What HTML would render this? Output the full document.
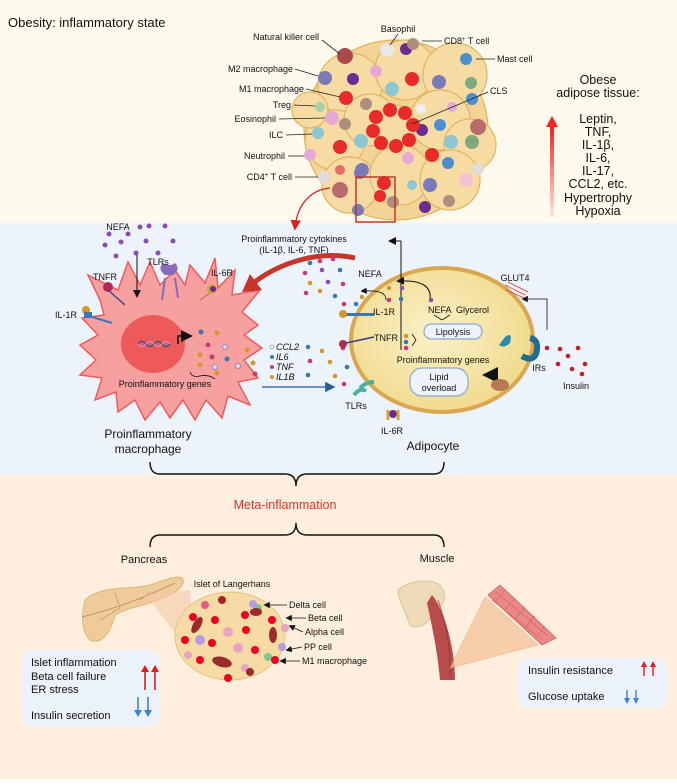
<!DOCTYPE html>
<html><head><meta charset="utf-8"><style>
html,body{margin:0;padding:0;}
body{width:677px;height:779px;overflow:hidden;font-family:"Liberation Sans",sans-serif;}
svg text{font-family:"Liberation Sans",sans-serif;}
</style></head><body>
<svg width="677" height="779" viewBox="0 0 677 779" xmlns="http://www.w3.org/2000/svg">
<defs>
<linearGradient id="rg" x1="0" y1="1" x2="0" y2="0"><stop offset="0" stop-color="#ff2a2a" stop-opacity="0.1"/><stop offset="1" stop-color="#ff1a1a"/></linearGradient>
<radialGradient id="ad" cx="0.45" cy="0.45" r="0.6"><stop offset="0" stop-color="#fbf1c8"/><stop offset="1" stop-color="#f0d98a"/></radialGradient>
<marker id="ah" markerWidth="8" markerHeight="8" refX="6" refY="4" orient="auto"><path d="M0,0 L8,4 L0,8 Z" fill="#111"/></marker>
<marker id="ahb" markerWidth="8" markerHeight="8" refX="6" refY="4" orient="auto"><path d="M0,0 L8,4 L0,8 Z" fill="#2a5f95"/></marker>
<marker id="ahr" markerWidth="8" markerHeight="8" refX="6" refY="4" orient="auto"><path d="M0,0 L8,4 L0,8 Z" fill="#e01b1b"/></marker>
</defs>
<rect x="0" y="0" width="677" height="223" fill="#fdf9ec"/>
<rect x="0" y="223" width="677" height="252" fill="#edf3fb"/>
<rect x="0" y="475" width="677" height="304" fill="#fdeedd"/>

<text x="8" y="27" font-size="13" fill="#111">Obesity: inflammatory state</text>

<!-- adipose cluster -->
<g stroke="#e0b45e" stroke-width="1.2" fill="#f6dca3">
<ellipse cx="396" cy="130" rx="92" ry="90" fill="#f3d496"/>
<circle cx="350" cy="85" r="32"/><circle cx="405" cy="70" r="30"/><circle cx="455" cy="75" r="32"/>
<circle cx="335" cy="140" r="30"/><circle cx="370" cy="120" r="26"/><circle cx="440" cy="120" r="30"/>
<circle cx="470" cy="145" r="26"/><circle cx="350" cy="185" r="28"/><circle cx="400" cy="175" r="30"/>
<circle cx="450" cy="180" r="30"/><circle cx="395" cy="125" r="20"/><circle cx="310" cy="110" r="18"/>
</g>
<g>
<circle cx="345" cy="56" r="8" fill="#a84a4a"/><circle cx="387" cy="50" r="6" fill="#777" stroke="#ddd" stroke-width="2"/>
<circle cx="388" cy="50" r="6" fill="#eee"/><circle cx="387" cy="50" r="6" fill="#e9e9e9"/>
<circle cx="387" cy="50" r="6" fill="#e8e8e8"/><circle cx="406" cy="49" r="6" fill="#6b2d90"/>
<circle cx="413" cy="44" r="6" fill="#ad8f7d"/><circle cx="466" cy="59" r="6" fill="#4b8fd0"/>
<circle cx="325" cy="78" r="7" fill="#7a7ab8"/><circle cx="353" cy="79" r="6" fill="#6b2d90"/>
<circle cx="376" cy="71" r="6" fill="#e6a9d4"/><circle cx="392" cy="89" r="7" fill="#8cc7d3"/>
<circle cx="412" cy="79" r="7" fill="#e82a2a"/><circle cx="439" cy="82" r="7" fill="#7a7ab8"/>
<circle cx="471" cy="83" r="6" fill="#7ea87d"/><circle cx="346" cy="98" r="7" fill="#e82a2a"/>
<circle cx="366" cy="104" r="6" fill="#ad8f7d"/><circle cx="421" cy="109" r="5" fill="#eee"/>
<circle cx="472" cy="99" r="6" fill="#4b8fd0"/><circle cx="452" cy="107" r="5" fill="#e6a9d4"/>
<circle cx="320" cy="107" r="5" fill="#a5cfa6"/><circle cx="332" cy="118" r="7" fill="#e6a9d4"/>
<circle cx="345" cy="124" r="6" fill="#ad8f7d"/><circle cx="318" cy="133" r="6" fill="#8cc7d3"/>
<circle cx="340" cy="147" r="7" fill="#e82a2a"/><circle cx="361" cy="141" r="7" fill="#8cc7d3"/>
<circle cx="310" cy="155" r="6" fill="#e6a9d4"/><circle cx="340" cy="170" r="5" fill="#e86a6a"/>
<circle cx="324" cy="177" r="6" fill="#ddd"/><circle cx="340" cy="190" r="8" fill="#b86b6b"/>
<circle cx="362" cy="170" r="7" fill="#7a7ab8"/><circle cx="384" cy="183" r="7" fill="#e82a2a"/>
<circle cx="412" cy="185" r="5" fill="#8cc7d3"/><circle cx="393" cy="202" r="6" fill="#ad8f7d"/>
<circle cx="430" cy="185" r="7" fill="#7a7ab8"/><circle cx="449" cy="201" r="6" fill="#ad8f7d"/>
<circle cx="425" cy="207" r="6" fill="#6b2d90"/><circle cx="478" cy="169" r="6" fill="#ddd"/>
<circle cx="466" cy="180" r="7" fill="#f3c3d4"/><circle cx="448" cy="163" r="6" fill="#4b8fd0"/>
<circle cx="432" cy="155" r="7" fill="#e82a2a"/><circle cx="408" cy="158" r="6" fill="#e6a9d4"/>
<circle cx="451" cy="142" r="7" fill="#8cc7d3"/><circle cx="472" cy="142" r="7" fill="#7ea87d"/>
<circle cx="478" cy="127" r="8" fill="#b86b6b"/><circle cx="440" cy="125" r="6" fill="#4b8fd0"/>
<circle cx="422" cy="130" r="6" fill="#6b2d90"/><circle cx="360" cy="173" r="6" fill="#7a7ab8"/>
<circle cx="358" cy="210" r="6" fill="#7a7ab8"/><circle cx="380" cy="196" r="6" fill="#e82a2a"/>
</g>
<g fill="#e82a2a">
<circle cx="390" cy="110" r="7"/><circle cx="405" cy="113" r="7"/><circle cx="413" cy="125" r="7"/>
<circle cx="409" cy="140" r="7"/><circle cx="396" cy="146" r="7"/><circle cx="381" cy="143" r="7"/>
<circle cx="373" cy="131" r="7"/><circle cx="376" cy="117" r="7"/>
</g>
<circle cx="393" cy="128" r="8" fill="#f6dca3"/>
<rect x="356" y="177" width="39" height="45" fill="none" stroke="#c0392b" stroke-width="1.5"/>
<path d="M330,188 C310,190 297,205 295,228" fill="none" stroke="#e01b1b" stroke-width="1.3" marker-end="url(#ahr)"/>
<g font-size="9" fill="#111">
<text x="319" y="40" text-anchor="end">Natural killer cell</text>
<text x="398" y="32" text-anchor="middle">Basophil</text>
<text x="444" y="44">CD8<tspan font-size="6" dy="-3">+</tspan><tspan dy="3"> T cell</tspan></text>
<text x="497" y="62">Mast cell</text>
<text x="293" y="72" text-anchor="end">M2 macrophage</text>
<text x="304" y="92" text-anchor="end">M1 macrophage</text>
<text x="291" y="108" text-anchor="end">Treg</text>
<text x="276" y="122" text-anchor="end">Eosinophil</text>
<text x="283" y="138" text-anchor="end">ILC</text>
<text x="285" y="159" text-anchor="end">Neutrophil</text>
<text x="292" y="180" text-anchor="end">CD4<tspan font-size="6" dy="-3">+</tspan><tspan dy="3"> T cell</tspan></text>
<text x="490" y="94">CLS</text>
</g>
<g stroke="#222" stroke-width="0.8">
<line x1="322" y1="40" x2="340" y2="54"/><line x1="398" y1="34" x2="390" y2="45"/><line x1="422" y1="41" x2="442" y2="41"/>
<line x1="476" y1="59" x2="495" y2="59"/><line x1="295" y1="69" x2="318" y2="76"/><line x1="306" y1="89" x2="340" y2="97"/>
<line x1="294" y1="105" x2="315" y2="106"/><line x1="279" y1="119" x2="325" y2="118"/><line x1="286" y1="135" x2="312" y2="134"/>
<line x1="288" y1="156" x2="304" y2="156"/><line x1="295" y1="177" x2="318" y2="177"/><line x1="488" y1="92" x2="412" y2="124"/>
</g>
<rect x="550" y="125" width="4" height="92" fill="url(#rg)"/>
<path d="M546,127 L552,116 L558,127 Z" fill="#ff2222"/>
<g font-size="12.5" fill="#111" text-anchor="middle">
<text x="598" y="84">Obese</text><text x="598" y="97">adipose tissue:</text>
<text x="598" y="123">Leptin,</text><text x="598" y="136">TNF,</text><text x="598" y="149">IL-1β,</text>
<text x="598" y="162">IL-6,</text><text x="598" y="175">IL-17,</text><text x="598" y="188">CCL2, etc.</text>
<text x="598" y="202">Hypertrophy</text><text x="598" y="215">Hypoxia</text>
</g>

<!-- macrophage -->
<g fill="#f7a0a0" stroke="#ef5a5a" stroke-width="1.5">
<path d="M100,300 L88,275 L118,290 L128,262 L140,285 L150,262 L160,285 L175,270 L185,285 L190,265 L205,283 L215,258 L218,288 L235,270 L232,295 L260,290 L242,312 L258,325 L244,335 L262,348 L244,360 L258,378 L238,382 L250,405 L228,396 L222,418 L206,400 L195,420 L183,400 L170,418 L160,402 L145,420 L135,400 L118,412 L116,392 L95,400 L102,378 L80,375 L96,360 L80,345 L98,335 L82,318 L104,315 Z"/>
</g>
<ellipse cx="153" cy="344" rx="32" ry="29" fill="#ee5a5a"/>
<path d="M138,344 q4,-5 8,0 t8,0 t8,0 t8,0" fill="none" stroke="#2a5f95" stroke-width="1.5"/>
<path d="M138,344 q4,5 8,0 t8,0 t8,0 t8,0" fill="none" stroke="#d88ac0" stroke-width="1.2"/>
<path d="M178,344 v-8 h12" fill="none" stroke="#111" stroke-width="1.5" marker-end="url(#ah)"/>
<g>
<circle cx="201" cy="332" r="2.5" fill="#3a78b5"/><circle cx="217" cy="333" r="2.5" fill="#d4972c"/>
<circle cx="208" cy="345" r="2.5" fill="#c93a7a"/><circle cx="225" cy="347" r="2.5" fill="#dcd8ee" stroke="#6a6ab0" stroke-width="0.6"/>
<circle cx="200" cy="355" r="2.5" fill="#d4972c"/><circle cx="212" cy="357" r="2.5" fill="#c93a7a"/>
<circle cx="227" cy="359" r="2.5" fill="#3a78b5"/><circle cx="200" cy="365" r="2.5" fill="#d4972c"/>
<circle cx="215" cy="367" r="2.5" fill="#dcd8ee" stroke="#6a6ab0" stroke-width="0.6"/><circle cx="238" cy="366" r="2.5" fill="#dcd8ee" stroke="#6a6ab0" stroke-width="0.6"/>
<circle cx="247" cy="350" r="2.5" fill="#d4972c"/><circle cx="253" cy="363" r="2.5" fill="#d4972c"/>
<circle cx="255" cy="374" r="2.5" fill="#c93a7a"/><circle cx="217" cy="373" r="2.5" fill="#d4972c"/>
</g>
<g fill="#8a4fb0">
<circle cx="140" cy="227" r="2.5"/><circle cx="149" cy="226" r="2.5"/><circle cx="165" cy="226" r="2.5"/>
<circle cx="105" cy="245" r="2.5"/><circle cx="121" cy="242" r="2.5"/><circle cx="146" cy="241" r="2.5"/>
<circle cx="173" cy="241" r="2.5"/><circle cx="116" cy="256" r="2.5"/><circle cx="136" cy="253" r="2.5"/>
<circle cx="158" cy="253" r="2.5"/><circle cx="109" cy="234" r="2.5"/><circle cx="128" cy="234" r="2.5"/>
</g>
<line x1="137" y1="255" x2="137" y2="296" stroke="#111" stroke-width="1" marker-end="url(#ah)"/>
<g>
<circle cx="108" cy="287" r="5" fill="#b02a55"/><line x1="108" y1="290" x2="125" y2="305" stroke="#3a4a8a" stroke-width="1.5"/>
<path d="M165,275 q-8,-6 -2,-12 q8,4 12,0 q6,6 -2,12 z" fill="#8a6ab8"/><line x1="165" y1="278" x2="162" y2="300" stroke="#8a6ab8" stroke-width="2"/><line x1="175" y1="278" x2="178" y2="298" stroke="#8a6ab8" stroke-width="2"/>
<circle cx="212" cy="289" r="5" fill="#d4a43a"/><circle cx="213" cy="289" r="3" fill="#6a2a90"/><line x1="210" y1="293" x2="200" y2="300" stroke="#a0743a" stroke-width="1"/>
<circle cx="86" cy="310" r="4" fill="#d4972c"/><rect x="84" y="312" width="8" height="6" fill="#3a78b5"/><line x1="92" y1="317" x2="112" y2="323" stroke="#3a78b5" stroke-width="2"/>
</g>
<g font-size="9" fill="#111">
<text x="118" y="230" text-anchor="middle">NEFA</text><text x="158" y="265" text-anchor="middle">TLRs</text>
<text x="105" y="280" text-anchor="middle">TNFR</text><text x="222" y="276" text-anchor="middle">IL-6R</text>
<text x="66" y="318" text-anchor="middle">IL-1R</text><text x="165" y="387" text-anchor="middle">Proinflammatory genes</text>
</g>
<path d="M190,372 q2,6 10,4 q8,-2 15,3" fill="none" stroke="#111" stroke-width="0.8"/>
<text x="148" y="438" font-size="12" fill="#111" text-anchor="middle">Proinflammatory</text>
<text x="148" y="453" font-size="12" fill="#111" text-anchor="middle">macrophage</text>

<g font-size="9" fill="#111" font-style="italic">
<circle cx="272" cy="347" r="2" fill="#fff" stroke="#6a6ab0" stroke-width="0.6"/><text x="276" y="350">CCL2</text>
<circle cx="272" cy="357" r="2" fill="#3a78b5"/><text x="276" y="360">IL6</text>
<circle cx="272" cy="367" r="2" fill="#c93a7a"/><text x="276" y="370">TNF</text>
<circle cx="272" cy="377" r="2" fill="#d4972c"/><text x="276" y="380">IL1B</text>
</g>
<line x1="262" y1="387" x2="333" y2="387" stroke="#2a5f95" stroke-width="1.3" marker-end="url(#ahb)"/>

<!-- cytokines -->
<text x="294" y="242" font-size="9" fill="#111" text-anchor="middle">Proinflammatory cytokines</text>
<text x="294" y="253" font-size="9" fill="#111" text-anchor="middle">(IL-1β, IL-6, TNF)</text>
<path d="M355,258 C320,250 280,262 252,284" fill="none" stroke="#c8352a" stroke-width="5"/>
<path d="M242,292 L250,274 L262,290 Z" fill="#c8352a"/>
<g>
<circle cx="310" cy="263" r="2.3" fill="#3a78b5"/><circle cx="320" cy="261" r="2.3" fill="#c93a7a"/><circle cx="333" cy="259" r="2.3" fill="#c93a7a"/>
<circle cx="305" cy="273" r="2.3" fill="#c93a7a"/><circle cx="322" cy="270" r="2.3" fill="#8a4fb0"/><circle cx="340" cy="270" r="2.3" fill="#3a78b5"/>
<circle cx="310" cy="283" r="2.3" fill="#d4972c"/><circle cx="328" cy="282" r="2.3" fill="#8a4fb0"/><circle cx="343" cy="284" r="2.3" fill="#c93a7a"/>
<circle cx="306" cy="293" r="2.3" fill="#c93a7a"/><circle cx="320" cy="291" r="2.3" fill="#d4972c"/><circle cx="335" cy="296" r="2.3" fill="#3a78b5"/>
<circle cx="344" cy="304" r="2.3" fill="#c93a7a"/><circle cx="356" cy="304" r="2.3" fill="#3a78b5"/><circle cx="362" cy="297" r="2.3" fill="#d4972c"/>
<circle cx="308" cy="347" r="2.3" fill="#3a78b5"/><circle cx="322" cy="351" r="2.3" fill="#d4972c"/><circle cx="343" cy="348" r="2.3" fill="#c93a7a"/>
<circle cx="310" cy="361" r="2.3" fill="#c93a7a"/><circle cx="330" cy="362" r="2.3" fill="#d4972c"/><circle cx="347" cy="367" r="2.3" fill="#3a78b5"/>
<circle cx="308" cy="375" r="2.3" fill="#3a78b5"/><circle cx="335" cy="376" r="2.3" fill="#d4972c"/><circle cx="344" cy="384" r="2.3" fill="#c93a7a"/>
</g>

<!-- adipocyte -->
<ellipse cx="442" cy="340" rx="91" ry="72" fill="url(#ad)" stroke="#d9a750" stroke-width="4"/>
<line x1="401" y1="350" x2="401" y2="241" stroke="#111" stroke-width="1"/>
<line x1="401" y1="241" x2="390" y2="241" stroke="#111" stroke-width="1" marker-end="url(#ah)"/>
<path d="M430,300 C432,285 420,280 398,281" fill="none" stroke="#111" stroke-width="1" marker-end="url(#ah)"/>
<path d="M386,300 C386,293 380,290 362,291" fill="none" stroke="#111" stroke-width="0.8" marker-end="url(#ah)"/>
<path d="M547,330 V299 H523" fill="none" stroke="#111" stroke-width="0.8" marker-end="url(#ah)"/>
<path d="M497,386 V375 H486" fill="none" stroke="#111" stroke-width="2" marker-end="url(#ah)"/>
<g>
<circle cx="389" cy="288" r="2.3" fill="#d4972c"/><circle cx="402" cy="288" r="2.3" fill="#8a4fb0"/>
<circle cx="389" cy="300" r="2.3" fill="#c93a7a"/><circle cx="401" cy="299" r="2.3" fill="#3a78b5"/><circle cx="431" cy="300" r="2.3" fill="#8a4fb0"/>
<circle cx="406" cy="336" r="2.3" fill="#d4972c"/><circle cx="406" cy="342" r="2.3" fill="#3a78b5"/><circle cx="406" cy="348" r="2.3" fill="#c93a7a"/>
</g>
<path d="M412,334 l4,6 l-4,6" fill="none" stroke="#111" stroke-width="0.8"/>
<rect x="424" y="324" width="58" height="15" rx="7.5" fill="#eef3fb" stroke="#8aa6d6" stroke-width="1.2"/>
<rect x="410" y="368" width="58" height="28" rx="12" fill="#eef3fb" stroke="#8aa6d6" stroke-width="1.2"/>
<path d="M442,320 l-8,-5 M442,320 l8,-5" stroke="#111" stroke-width="0.8"/>
<g>
<rect x="344" y="313" width="30" height="3" fill="#3a78b5"/><circle cx="343" cy="314" r="4" fill="#d4972c"/>
<circle cx="343" cy="344" r="4" fill="#b02a55"/><line x1="346" y1="343" x2="374" y2="337" stroke="#3a3a8a" stroke-width="1.5"/>
<path d="M360,388 q6,-6 14,-6 M354,395 q6,-8 12,-4" stroke="#49b0a0" stroke-width="4" fill="none"/>
<circle cx="393" cy="414" r="4" fill="#6a2a90"/><path d="M388,410 v10 M398,410 v10" stroke="#d4a43a" stroke-width="3"/>
<path d="M505,337 q8,-6 5,6 q-6,6 -11,2" fill="#2a8aaa"/><path d="M530,338 q10,2 6,16 q-4,8 -14,2" fill="none" stroke="#1f6d92" stroke-width="6"/>
<path d="M505,285 l20,10 M508,282 l20,10 M506,290 l18,8" stroke="#d55" stroke-width="1"/>
<ellipse cx="500" cy="385" rx="9" ry="6" fill="#b87a55"/>
</g>
<g fill="#c0202a">
<circle cx="547" cy="348" r="2.3"/><circle cx="560" cy="349" r="2.3"/><circle cx="578" cy="348" r="2.3"/>
<circle cx="568" cy="356" r="2.3"/><circle cx="558" cy="364" r="2.3"/><circle cx="572" cy="369" r="2.3"/>
<circle cx="585" cy="364" r="2.3"/><circle cx="582" cy="374" r="2.3"/>
</g>
<g font-size="9" fill="#111">
<text x="370" y="277" text-anchor="middle">NEFA</text><text x="384" y="315" text-anchor="middle">IL-1R</text>
<text x="386" y="341" text-anchor="middle">TNFR</text><text x="428" y="313">NEFA</text><text x="456" y="313">Glycerol</text>
<text x="453" y="335" text-anchor="middle">Lipolysis</text><text x="443" y="363" text-anchor="middle">Proinflammatory genes</text>
<text x="439" y="380" text-anchor="middle">Lipid</text><text x="439" y="391" text-anchor="middle">overload</text>
<text x="515" y="281" text-anchor="middle">GLUT4</text><text x="539" y="371" text-anchor="middle">IRs</text>
<text x="576" y="389" text-anchor="middle">Insulin</text><text x="356" y="409" text-anchor="middle">TLRs</text>
<text x="392" y="434" text-anchor="middle">IL-6R</text>
</g>
<text x="433" y="450" font-size="12" fill="#111" text-anchor="middle">Adipocyte</text>

<!-- braces -->
<path d="M150,462 q0,12 10,12 H285 q11,0 11,12 q0,-12 11,-12 H434 q10,0 10,-12" fill="none" stroke="#111" stroke-width="1.4"/>
<text x="285" y="509" font-size="12.5" fill="#e33030" text-anchor="middle">Meta-inflammation</text>
<path d="M150,547 q0,-12 10,-12 H285 q11,0 11,-12 q0,12 11,12 H434 q10,0 10,12" fill="none" stroke="#111" stroke-width="1.4"/>
<text x="144" y="563" font-size="11" fill="#111" text-anchor="middle">Pancreas</text>
<text x="437" y="562" font-size="11" fill="#111" text-anchor="middle">Muscle</text>

<!-- pancreas -->
<path d="M85,600 C100,585 130,590 150,585 C165,580 175,575 182,578 C186,583 180,590 170,595 C150,605 125,608 115,615 C110,635 100,645 90,640 C80,630 82,612 85,600 Z" fill="#eecb98" stroke="#e0b57c"/>
<path d="M82,617 C110,610 140,600 175,583" fill="none" stroke="#b88a5a" stroke-width="0.8"/>
<path d="M115,593 L120,608 L100,620 M150,592 L140,600" fill="none" stroke="#b88a5a" stroke-width="0.6"/>
<polygon points="175,598 182,608 230,598 200,630" fill="#f5c9a8" opacity="0.7"/>
<polygon points="143,595 190,590 195,660 150,600" fill="#f5c9a8" opacity="0.6"/>
<ellipse cx="230" cy="636" rx="55" ry="44" fill="#f6dba5" stroke="#e8c080"/>
<g>
<circle cx="205" cy="605" r="4" fill="#e85a8a"/><circle cx="222" cy="600" r="4" fill="#a22"/><circle cx="193" cy="617" r="4" fill="#e02"/>
<ellipse cx="197" cy="625" rx="4" ry="9" fill="#9a2b2b" transform="rotate(30 197 625)"/>
<circle cx="215" cy="620" r="4" fill="#e02"/><circle cx="245" cy="615" r="4" fill="#e02"/><circle cx="258" cy="608" r="4" fill="#7ac88a"/>
<circle cx="253" cy="604" r="4" fill="#b89ae0"/><ellipse cx="256" cy="612" rx="6" ry="4" fill="#9a2b2b"/>
<circle cx="185" cy="640" r="4" fill="#e02"/><circle cx="200" cy="640" r="5" fill="#b89ae0"/><circle cx="212" cy="643" r="4" fill="#e02"/>
<circle cx="228" cy="632" r="5" fill="#e9a3c3"/><circle cx="246" cy="630" r="4" fill="#e02"/><ellipse cx="273" cy="635" rx="4" ry="8" fill="#9a2b2b"/>
<circle cx="272" cy="620" r="4" fill="#e02"/><circle cx="285" cy="628" r="4" fill="#e9a3c3"/><circle cx="200" cy="660" r="4" fill="#e02"/>
<ellipse cx="222" cy="662" rx="10" ry="5" fill="#9a2b2b" transform="rotate(15 222 662)"/><circle cx="255" cy="650" r="4" fill="#e02"/>
<circle cx="268" cy="657" r="4" fill="#7ac88a"/><circle cx="275" cy="660" r="4" fill="#e02"/><circle cx="245" cy="668" r="4" fill="#e9a3c3"/>
<circle cx="228" cy="678" r="4" fill="#e02"/><circle cx="188" cy="655" r="4" fill="#e9a3c3"/><circle cx="238" cy="648" r="5" fill="#e9a3c3"/>
<circle cx="250" cy="672" r="4" fill="#9a2b2b"/><circle cx="282" cy="647" r="4" fill="#b89ae0"/>
</g>
<text x="232" y="587" font-size="9" fill="#111" text-anchor="middle">Islet of Langerhans</text>
<g font-size="9" fill="#111">
<text x="289" y="608">Delta cell</text><text x="308" y="621">Beta cell</text><text x="305" y="635">Alpha cell</text>
<text x="304" y="650">PP cell</text><text x="302" y="664">M1 macrophage</text>
</g>
<g stroke="#111" stroke-width="0.8">
<line x1="287" y1="605" x2="265" y2="605" marker-end="url(#ah)"/><line x1="306" y1="618" x2="287" y2="618" marker-end="url(#ah)"/>
<line x1="303" y1="632" x2="290" y2="626" marker-end="url(#ah)"/><line x1="302" y1="647" x2="287" y2="650" marker-end="url(#ah)"/>
<line x1="300" y1="661" x2="281" y2="661" marker-end="url(#ah)"/>
</g>
<rect x="22" y="650" width="138" height="77" rx="12" fill="#ebf2fb"/>
<g font-size="11" fill="#111">
<text x="31" y="666">Islet inflammation</text><text x="31" y="680">Beta cell failure</text><text x="31" y="693">ER stress</text>
<text x="31" y="719">Insulin secretion</text>
</g>
<g stroke-width="1.6">
<line x1="145" y1="690" x2="145" y2="670" stroke="#e01b1b"/><line x1="155" y1="690" x2="155" y2="670" stroke="#e01b1b"/>
<line x1="138" y1="697" x2="138" y2="712" stroke="#3a85cc"/><line x1="148" y1="697" x2="148" y2="712" stroke="#3a85cc"/>
</g>
<path d="M141,672 l4,-7 l4,7 z M151,672 l4,-7 l4,7 z" fill="#e01b1b"/>
<path d="M134,710 l4,7 l4,-7 z M144,710 l4,7 l4,-7 z" fill="#3a85cc"/>

<!-- muscle -->
<path d="M398,590 C410,580 430,578 440,585 C448,595 445,605 435,610 C428,625 418,630 410,625 C405,610 398,600 398,590 Z" fill="#eedcb8" stroke="#d9c39a"/>
<path d="M432,595 C445,610 455,650 455,680 L440,680 C438,655 432,625 427,603 Z" fill="#b84c4c"/>
<path d="M438,600 C447,625 451,650 450,678" stroke="#8a2a2a" stroke-width="0.6" fill="none"/>
<polygon points="450,668 485,597 538,645" fill="#f6c49c" opacity="0.75" stroke="#f0a070" stroke-width="0.6"/>
<polygon points="488,595 500,585 556,638 542,645" fill="#ea8888" stroke="#d06060" stroke-width="0.8"/>
<path d="M492,600 l50,40 M496,592 l52,44 M505,590 l-10,12 M515,598 l-10,12 M525,607 l-10,12 M535,616 l-10,12 M545,626 l-8,10" stroke="#d06060" stroke-width="0.6" fill="none"/>
<rect x="518" y="658" width="149" height="50" rx="12" fill="#ebf2fb"/>
<g font-size="11" fill="#111"><text x="528" y="674">Insulin resistance</text><text x="528" y="700">Glucose uptake</text></g>
<g stroke-width="1.4">
<line x1="644" y1="676" x2="644" y2="665" stroke="#e01b1b"/><line x1="653" y1="676" x2="653" y2="665" stroke="#e01b1b"/>
<line x1="627" y1="690" x2="627" y2="700" stroke="#3a85cc"/><line x1="636" y1="690" x2="636" y2="700" stroke="#3a85cc"/>
</g>
<path d="M641,667 l3,-6 l3,6 z M650,667 l3,-6 l3,6 z" fill="#e01b1b"/>
<path d="M624,698 l3,6 l3,-6 z M633,698 l3,6 l3,-6 z" fill="#3a85cc"/>
</svg>
</body></html>
